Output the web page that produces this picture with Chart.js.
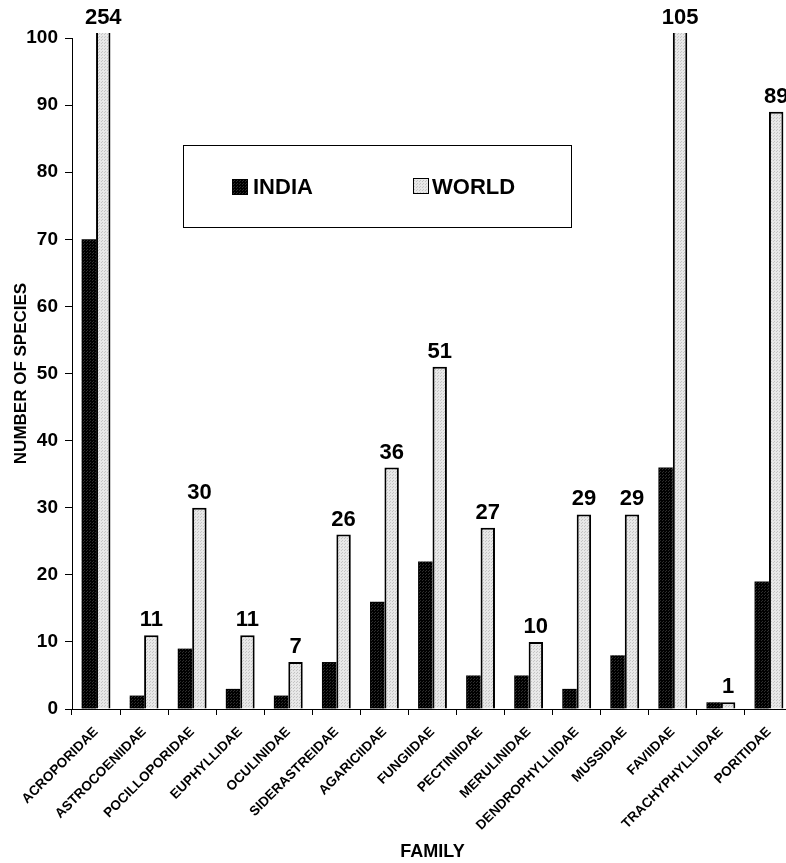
<!DOCTYPE html>
<html>
<head>
<meta charset="utf-8">
<script src="https://cdn.jsdelivr.net/npm/chart.js@4"></script>
<style>
  html, body { margin: 0; padding: 0; background: #fff; overflow: hidden; }
  #wrap { width: 786px; height: 863px; overflow: hidden; }
</style>
</head>
<body>
<div id="wrap"><canvas id="myChart" width="793" height="863"></canvas></div>
<script>
const families = ["ACROPORIDAE", "ASTROCOENIIDAE", "POCILLOPORIDAE", "EUPHYLLIDAE", "OCULINIDAE",
  "SIDERASTREIDAE", "AGARICIIDAE", "FUNGIIDAE", "PECTINIIDAE", "MERULINIDAE",
  "DENDROPHYLLIIDAE", "MUSSIDAE", "FAVIIDAE", "TRACHYPHYLLIIDAE", "PORITIDAE"];
const indiaValues = [70, 2, 9, 3, 2, 7, 16, 22, 5, 5, 3, 8, 36, 1, 19];
const worldValues = [254, 11, 30, 11, 7, 26, 36, 51, 27, 10, 29, 29, 105, 1, 89];
const yTicks = [0, 10, 20, 30, 40, 50, 60, 70, 80, 90, 100];

const FONT = "Arial, 'Liberation Sans', sans-serif";

function makePattern(base, dot) {
  const c = document.createElement('canvas');
  c.width = 3; c.height = 3;
  const g = c.getContext('2d');
  g.fillStyle = base;
  g.fillRect(0, 0, 3, 3);
  g.fillStyle = dot;
  g.fillRect(0, 0, 1, 1);
  g.fillRect(2, 1, 1, 1);
  return g.createPattern(c, 'repeat');
}
const ctx = document.getElementById('myChart').getContext('2d');
const indiaFill = makePattern('#000000', '#2e2e2e');
const worldFill = makePattern('#e8e8e8', '#c4c4c4');

// value labels over the world bars
const valueLabels = {
  id: 'valueLabels',
  afterDatasetsDraw(chart) {
    const c = chart.ctx;
    const meta = chart.getDatasetMeta(1);
    c.save();
    c.font = "bold 22px " + FONT;
    c.fillStyle = '#000';
    c.textAlign = 'center';
    c.textBaseline = 'bottom';
    meta.data.forEach((bar, i) => {
      const top = Math.max(bar.y, chart.chartArea.top - 5);
      c.fillText(String(worldValues[i]), bar.x, top - 4);
    });
    c.restore();
  }
};

// boxed legend inside the plot
const boxLegend = {
  id: 'boxLegend',
  afterDraw(chart) {
    const c = chart.ctx;
    c.save();
    c.fillStyle = '#fff';
    c.fillRect(183, 145, 389, 83);
    c.strokeStyle = '#000';
    c.lineWidth = 1;
    c.strokeRect(183.5, 145.5, 388, 82);
    c.font = "bold 22px " + FONT;
    c.textBaseline = 'middle';
    c.fillStyle = indiaFill;
    c.fillRect(232, 179, 16, 16);
    c.fillStyle = '#000';
    c.fillText('INDIA', 253, 188);
    c.fillStyle = worldFill;
    c.fillRect(413, 178, 16, 16);
    c.strokeRect(413.5, 178.5, 15, 15);
    c.fillStyle = '#000';
    c.fillText('WORLD', 432, 188);
    c.restore();
  }
};

new Chart(ctx, {
  type: 'bar',
  data: {
    labels: families,
    datasets: [{
      label: 'INDIA',
      data: indiaValues,
      backgroundColor: indiaFill,
      borderColor: '#000',
      borderWidth: 0,
      categoryPercentage: 0.6,
      barPercentage: 1.0,
      clip: { left: 0, top: 5, right: 0, bottom: 0 }
    }, {
      label: 'WORLD',
      data: worldValues,
      backgroundColor: worldFill,
      borderColor: '#000',
      borderWidth: 2,
      borderSkipped: 'bottom',
      categoryPercentage: 0.6,
      barPercentage: 1.0,
      clip: { left: 0, top: 5, right: 0, bottom: 0 }
    }]
  },
  options: {
    responsive: false,
    animation: false,
    layout: { padding: { top: 38, right: 0, left: 0, bottom: 0 } },
    plugins: {
      legend: { display: false },
      tooltip: { enabled: false }
    },
    scales: {
      x: {
        grid: { display: true, drawOnChartArea: false, drawTicks: true, tickLength: 6, color: '#000', offset: true },
        border: { color: '#000', width: 1 },
        ticks: {
          color: '#000',
          font: { family: FONT, size: 13.5, weight: 'bold' },
          maxRotation: 45,
          minRotation: 45,
          autoSkip: false,
          padding: 9
        },
        title: {
          display: true,
          text: 'FAMILY',
          color: '#000',
          font: { family: FONT, size: 18, weight: 'bold' },
          padding: { top: 4, bottom: 0 },
          align: 'center'
        },
        afterFit(scale) { scale.height = 154; }
      },
      y: {
        min: 0,
        max: 100,
        afterBuildTicks(scale) { scale.ticks = yTicks.map(v => ({ value: v })); },
        grid: { display: true, drawOnChartArea: false, drawTicks: true, tickLength: 7, color: '#000' },
        border: { color: '#000', width: 1 },
        ticks: {
          color: '#000',
          font: { family: FONT, size: 19, weight: 'bold' },
          padding: 7
        },
        title: {
          display: true,
          text: 'NUMBER OF SPECIES',
          color: '#000',
          font: { family: FONT, size: 17, weight: 'bold' },
          padding: { top: 11, bottom: 0 }
        },
        afterFit(scale) { scale.width = 72; }
      }
    }
  },
  plugins: [valueLabels, boxLegend]
});
</script>
</body>
</html>
